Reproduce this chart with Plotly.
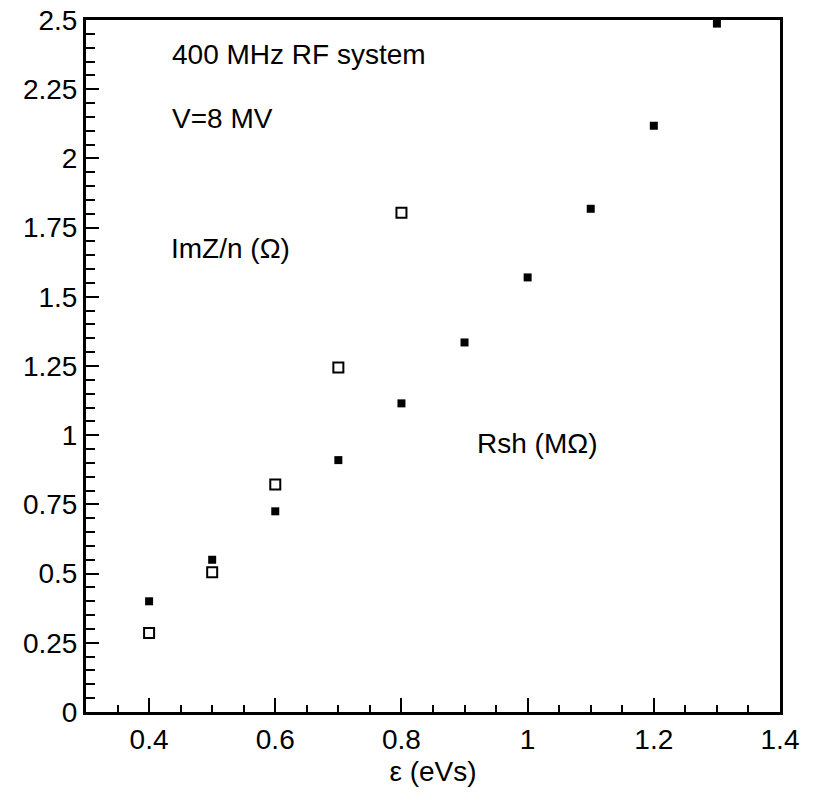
import plotly.graph_objects as go

# Data
eps_rsh = [0.4, 0.5, 0.6, 0.7, 0.8, 0.9, 1.0, 1.1, 1.2, 1.3]
rsh_mohm = [0.40, 0.55, 0.725, 0.91, 1.115, 1.335, 1.57, 1.818, 2.118, 2.487]

eps_imz = [0.4, 0.5, 0.6, 0.7, 0.8]
imz_n = [0.285, 0.505, 0.822, 1.245, 1.804]

x_tickvals = [0.4, 0.6, 0.8, 1.0, 1.2, 1.4]
x_ticktext = ["0.4", "0.6", "0.8", "1", "1.2", "1.4"]
y_tickvals = [0, 0.25, 0.5, 0.75, 1.0, 1.25, 1.5, 1.75, 2.0, 2.25, 2.5]
y_ticktext = ["0", "0.25", "0.5", "0.75", "1", "1.25", "1.5", "1.75", "2", "2.25", "2.5"]

FONT = "Liberation Sans, Arial, sans-serif"
FS = 28

fig = go.Figure()
fig.add_trace(go.Scatter(
    x=eps_rsh, y=rsh_mohm, mode="markers", name="Rsh (MΩ)",
    marker=dict(symbol="square", size=8, color="black", line=dict(width=0)),
))
fig.add_trace(go.Scatter(
    x=eps_imz, y=imz_n, mode="markers", name="ImZ/n (Ω)",
    marker=dict(symbol="square-open", size=10, color="black", line=dict(width=2, color="black")),
))

annots = [
    ("400 MHz RF system", 0.438, 2.375),
    ("V=8 MV", 0.438, 2.143),
    ("ImZ/n (Ω)", 0.436, 1.674),
    ("Rsh (MΩ)", 0.921, 0.970),
]
for text, ax, ay in annots:
    fig.add_annotation(x=ax, y=ay, text=text, showarrow=False, xanchor="left",
                       yanchor="middle", xshift=-3,
                       font=dict(family=FONT, size=FS, color="black"))

fig.update_layout(
    width=817, height=794,
    margin=dict(l=86, r=37, t=20, b=82, autoexpand=False),
    paper_bgcolor="white", plot_bgcolor="white",
    showlegend=False,
    font=dict(family=FONT, size=FS, color="black"),
)
fig.update_xaxes(
    range=[0.3, 1.4], tickmode="array", tickvals=x_tickvals, ticktext=x_ticktext,
    ticks="inside", ticklen=14, tickwidth=2, tickcolor="black",
    showline=True, linewidth=3, linecolor="black", mirror=True,
    showgrid=False, zeroline=False, automargin=False, ticklabeloverflow="allow",
    minor=dict(tickmode="linear", tick0=0.3, dtick=0.05, ticks="inside", ticklen=7,
               tickwidth=2, tickcolor="black", showgrid=False),
    title=dict(text="ε (eVs)", font=dict(family=FONT, size=FS), standoff=8),
    tickfont=dict(family=FONT, size=FS, color="black"),
)
fig.update_yaxes(
    range=[0, 2.5], tickmode="array", tickvals=y_tickvals, ticktext=y_ticktext,
    ticks="inside", ticklen=13, tickwidth=2, tickcolor="black",
    showline=True, linewidth=3, linecolor="black", mirror=True,
    showgrid=False, zeroline=False, automargin=False, ticklabeloverflow="allow",
    minor=dict(tickmode="linear", tick0=0, dtick=0.05, ticks="inside", ticklen=9,
               tickwidth=2, tickcolor="black", showgrid=False),
    tickfont=dict(family=FONT, size=FS, color="black"),
)

fig.write_html("out.html", config={"displayModeBar": False},
               post_script="document.body.style.margin='0';")
